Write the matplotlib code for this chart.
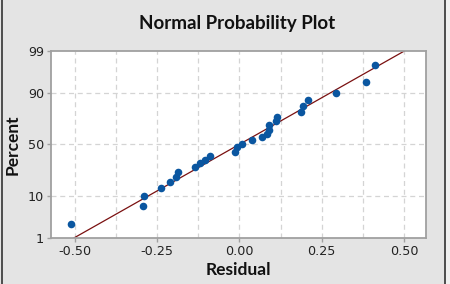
from statistics import NormalDist

import matplotlib
matplotlib.use("Agg")
import matplotlib.pyplot as plt
from matplotlib.lines import Line2D

# residuals and their plotted percents
residual = [-0.512, -0.292, -0.290, -0.239, -0.211, -0.193, -0.187, -0.135, -0.120,
            -0.105, -0.090, -0.014, -0.007, 0.009, 0.039, 0.069, 0.083, 0.091,
            0.091, 0.111, 0.115, 0.187, 0.194, 0.209, 0.293, 0.385, 0.412]
percent = [2.5, 6.3, 10.1, 13.8, 17.4, 21.2, 24.8, 28.8, 31.9,
           34.8, 38.6, 42.9, 47.2, 50.0, 54.3, 57.5, 60.6, 64.4,
           68.4, 72.2, 74.9, 79.1, 82.9, 86.4, 90.0, 93.8, 97.6]

# fitted normal line ends
fit_x = [-0.505, 0.503]
fit_pct = [1, 99]

x_ticks = [-0.50, -0.25, 0.00, 0.25, 0.50]
x_grid = [-0.5, -0.375, -0.25, -0.125, 0.0, 0.125, 0.25, 0.375, 0.5]
y_ticks = [1, 10, 50, 90, 99]

nd = NormalDist()


def prob(p):
    return [nd.inv_cdf(v / 100.0) for v in p]


bg = "#e4e4e4"
label_font = ["Lato", "DejaVu Sans"]

fig = plt.figure(figsize=(4.5, 2.84), dpi=100, facecolor=bg)
ax = fig.add_axes((0.1133, 0.1609, 0.8325, 0.6606))
ax.set_facecolor("white")

for gx in x_grid:
    ax.axvline(gx, color="#d4d4d4", lw=0.9, ls=(0, (4, 3)), zorder=0)
for gy in [10, 50, 90]:
    ax.axhline(prob([gy])[0], color="#d4d4d4", lw=0.9, ls=(0, (4, 3)), zorder=0)

ax.plot(fit_x, prob(fit_pct), color="#7a1010", lw=0.9, zorder=2)
ax.scatter(residual, prob(percent), s=30, color="#0a56a0", zorder=3, linewidths=0)

ax.set_xlim(-0.573, 0.566)
ax.set_ylim(prob([1])[0], prob([99])[0])
ax.set_xticks(x_ticks)
ax.set_xticklabels([f"{v:.2f}" for v in x_ticks])
ax.set_yticks(prob(y_ticks))
ax.set_yticklabels([str(v) for v in y_ticks])

for s in ax.spines.values():
    s.set_color("#a0a0a0")
    s.set_linewidth(1.3)
ax.tick_params(colors="#a0a0a0", labelcolor="#222222", length=3, width=1,
               labelsize=9.2, pad=2)

ax.set_xlabel("Residual", fontsize=12.5, fontweight="bold", family=label_font,
              color="#111111", labelpad=3)
ax.set_ylabel("Percent", fontsize=12.5, fontweight="bold", family=label_font,
              color="#111111", labelpad=5)
fig.text(0.527, 0.918, "Normal Probability Plot", ha="center", va="center",
         fontsize=13.5, fontweight="bold", family=label_font, color="#111111")

# window frame lines
fig.add_artist(Line2D([1.5 / 450, 1.5 / 450], [0, 1], color="#333333", lw=1.2))
fig.add_artist(Line2D([445 / 450, 445 / 450], [0, 1], color="#333333", lw=1.2))
fig.patches.append(plt.Rectangle((446 / 450, 0), 4 / 450, 1, transform=fig.transFigure,
                                 color="#f0f0f0", zorder=-1))

fig.savefig("out.png", dpi=100, facecolor=bg)
